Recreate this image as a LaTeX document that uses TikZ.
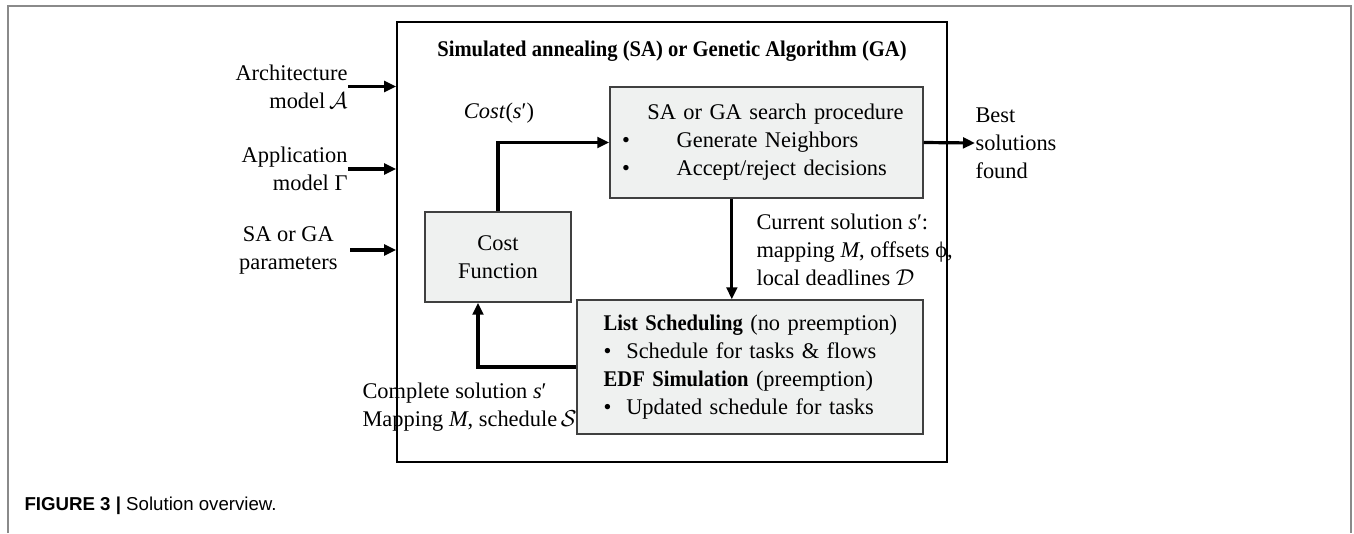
\documentclass[tikz,border=0pt]{standalone}
\usepackage{fontspec}
\setmainfont{Liberation Serif}[BoldFeatures={FakeStretch=0.92}]
\newfontfamily\capfont{Liberation Sans}
\usetikzlibrary{arrows.meta}

\definecolor{boxfill}{HTML}{EFF1F0}
\definecolor{framegray}{HTML}{8A8A8A}

\begin{document}
\begin{tikzpicture}[x=0.75pt,y=-0.75pt,>={Stealth[length=9pt,width=8pt,inset=0pt]},thick,
    txt/.style={font=\fontsize{16.8}{21}\selectfont,inner sep=0pt},
    box/.style={txt,draw=black!75,line width=1.1pt,fill=boxfill},
    flow/.style={->,line width=2.4pt}]

    \useasboundingbox (0,0) rectangle (1354,533);
    \draw[framegray,line width=1.1pt] (8,533) -- (8,6) -- (1351,6) -- (1351,533);

    % main box and title
    \node (0) [draw,line width=1.2pt,minimum width=412.5pt,minimum height=330pt,inner sep=0pt] at (672,242) {};
    \node (1) [txt,font=\fontsize{16.8}{21}\selectfont\bfseries] at (672,51) {Simulated annealing (SA) or Genetic Algorithm (GA)};

    % inner boxes
    \node (2) [box,minimum width=234.75pt,minimum height=83.25pt,text width=216.75pt,inner xsep=9pt,align=left] at (766.5,142.5)
        {\hspace*{19pt}SA or GA search procedure\\
         \makebox[41pt][l]{•}Generate Neighbors\\
         \makebox[41pt][l]{•}Accept/reject decisions};
    \node (3) [box,minimum width=259.5pt,minimum height=100.5pt,text width=219.5pt,inner xsep=20pt,align=left] at (750,367)
        {\mbox{\textbf{List Scheduling} (no preemption)}\\
         \makebox[17pt][l]{•}Schedule for tasks \& flows\\
         \mbox{\textbf{EDF Simulation} (preemption)}\\
         \makebox[17pt][l]{•}Updated schedule for tasks};
    \node (4) [box,minimum width=109.5pt,minimum height=67.5pt,align=center] at (498,257) {Cost\\Function};

    % inputs
    \node (5) [txt,align=right,anchor=east] at (348,86.5) {Architecture\\model\,$\mathcal{A}$};
    \node (6) [txt,align=right,anchor=east] at (348,169) {Application\\model Γ};
    \node (7) [txt,align=center,anchor=east] at (338,250) {SA or GA\\parameters};

    % labels
    \node (8) [txt] at (499,113) {\textit{Cost}(\textit{s}′)};
    \node (9) [txt,align=left,anchor=west] at (756,250) {Current solution \textit{s}′:\\mapping \textit{M}, offsets ϕ,\\local deadlines $\mathcal{D}$};
    \node (10) [txt,align=left,anchor=west] at (362,407) {Complete solution \textit{s}′\\Mapping \textit{M}, schedule\,$\mathcal{S}$};
    \node (11) [txt,align=left,anchor=west] at (975,143) {Best\\solutions\\found};

    \node (12) [anchor=west,inner sep=0pt,font=\capfont\fontsize{14}{16}\selectfont] at (24,506) {\textbf{FIGURE 3 |} Solution overview.};

    \draw[flow] (5.east) -- (5.east -| 0.west);
    \draw[flow] (6.east) -- (6.east -| 0.west);
    \draw[flow] ([xshift=9pt]7.east) -- (7.east -| 0.west);
    \draw[flow] (4.north) |- (2.west);
    \draw[flow] ([xshift=-26pt]2.south) -- ([xshift=-26pt]2.south |- 3.north);
    \draw[flow] (3.west) -| ([xshift=-15pt]4.south);
    \draw[flow] (2.east) -- (11.west);
\end{tikzpicture}
\end{document}
